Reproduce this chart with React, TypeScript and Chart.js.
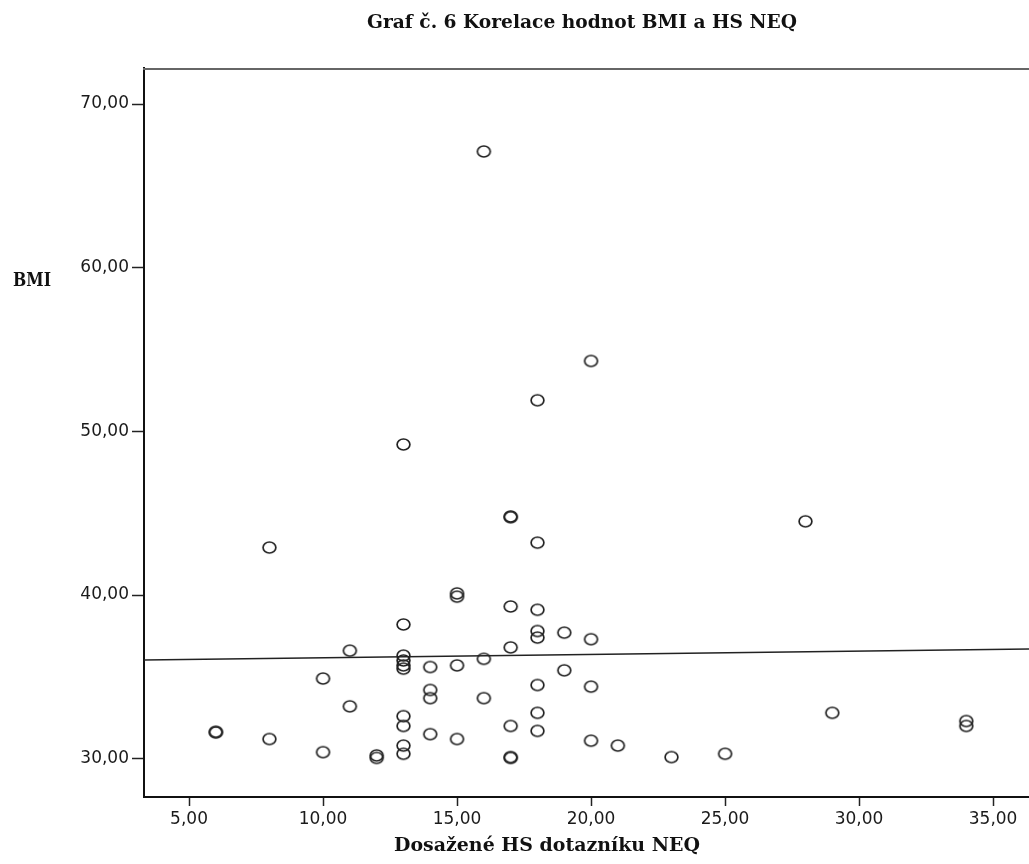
import React, { useEffect, useRef } from "react";
import { Chart, registerables } from "chart.js";

Chart.register(...registerables);

const titleText = "Graf č. 6 Korelace hodnot BMI a HS NEQ";
const xTitleText = "Dosažené HS dotazníku NEQ";
const yTitleText = "BMI";

const xTicks = [5, 10, 15, 20, 25, 30, 35];
const yTicks = [30, 40, 50, 60, 70];

// Dosažené HS dotazníku NEQ (x) and BMI (y)
const hsNeq = [
  16, 20, 18, 13, 17, 17, 28, 8, 18, 15, 15, 17, 18, 13, 18, 18, 19, 20, 11, 17,
  16, 13, 13, 13, 13, 14, 15, 10, 19, 14, 14, 16, 18, 20, 11, 13, 13, 18, 17, 18,
  6, 6, 8, 14, 15, 20, 10, 12, 12, 13, 13, 17, 17, 21, 23, 25, 29, 34, 34,
];
const bmi = [
  67.1, 54.3, 51.9, 49.2, 44.8, 44.75, 44.5, 42.9, 43.2, 40.1, 39.9, 39.3, 39.1, 38.2, 37.8, 37.4, 37.7, 37.3, 36.6, 36.8,
  36.1, 36.3, 36.0, 35.7, 35.5, 35.6, 35.7, 34.9, 35.4, 34.2, 33.7, 33.7, 34.5, 34.4, 33.2, 32.6, 32.0, 32.8, 32.0, 31.7,
  31.6, 31.65, 31.2, 31.5, 31.2, 31.1, 30.4, 30.2, 30.05, 30.8, 30.3, 30.05, 30.1, 30.8, 30.1, 30.3, 32.8, 32.3, 32.0,
];

// fit line end points
const fitX = [3.32, 36.34];
const fitY = [36.03, 36.7];

const fmt = (v: number) => v.toFixed(2).replace(".", ",");

function makeMarker(): HTMLCanvasElement {
  const c = document.createElement("canvas");
  c.width = 17;
  c.height = 15;
  const g = c.getContext("2d")!;
  g.strokeStyle = "#222";
  g.lineWidth = 1.7;
  g.beginPath();
  g.ellipse(8.5, 7.5, 6.4, 5.5, 0, 0, Math.PI * 2);
  g.stroke();
  return c;
}

const decorPlugin = {
  id: "decor",
  afterDraw(chart: any) {
    const ctx = chart.ctx as CanvasRenderingContext2D;
    const a = chart.chartArea;
    ctx.save();
    // top frame line
    ctx.strokeStyle = "#666";
    ctx.lineWidth = 2;
    ctx.beginPath();
    ctx.moveTo(a.left - 1, a.top + 1);
    ctx.lineTo(a.right, a.top + 1);
    ctx.stroke();

    const drawText = (t: string, x: number, y: number, size: number, target?: number) => {
      ctx.save();
      ctx.font = `bold ${size}px "DejaVu Serif"`;
      ctx.fillStyle = "#111";
      ctx.textAlign = "center";
      ctx.textBaseline = "middle";
      const w = ctx.measureText(t).width;
      const sx = target ? target / w : 1;
      ctx.translate(x, y);
      ctx.scale(sx, 1);
      ctx.fillText(t, 0, 0);
      ctx.restore();
    };
    drawText(titleText, 582, 23, 18, 430);
    drawText(xTitleText, 547, 846, 18, 306);
    drawText(yTitleText, 32, 281, 18, 38);
    ctx.restore();
  },
};

export default function App() {
  const ref = useRef<HTMLCanvasElement | null>(null);

  useEffect(() => {
    if (!ref.current) return;
    document.body.style.margin = "0";
    const marker = makeMarker();
    const points = hsNeq.map((x, i) => ({ x, y: bmi[i] }));
    const fit = fitX.map((x, i) => ({ x, y: fitY[i] }));

    const chart = new Chart(ref.current, {
      type: "scatter",
      data: {
        datasets: [
          {
            data: fit,
            showLine: true,
            borderColor: "#222",
            borderWidth: 1.5,
            pointRadius: 0,
            pointHoverRadius: 0,
          },
          {
            data: points,
            pointStyle: marker as any,
            pointRadius: 6,
            backgroundColor: "rgba(0,0,0,0)",
            borderColor: "#222",
          },
        ],
      },
      options: {
        responsive: false,
        animation: false,
        devicePixelRatio: 1,
        layout: { autoPadding: false, padding: { top: 68, left: 0, right: 0, bottom: 0 } },
        plugins: {
          legend: { display: false },
          title: { display: false },
          tooltip: { enabled: false },
        },
        scales: {
          x: {
            type: "linear",
            min: 3.32,
            max: 36.34,
            afterBuildTicks: (s: any) => {
              s.ticks = xTicks.map((v) => ({ value: v }));
            },
            afterFit: (s: any) => {
              s.height = 67;
              s.paddingLeft = 0;
              s.paddingRight = 0;
            },
            border: { display: true, color: "#111", width: 2 },
            grid: {
              drawOnChartArea: false,
              drawTicks: true,
              tickLength: 9,
              tickColor: "#222",
              tickWidth: 1.5,
            },
            ticks: {
              padding: 3,
              color: "#1a1a1a",
              font: { family: "DejaVu Sans", size: 17 },
              maxRotation: 0,
              autoSkip: false,
              callback: (v: any) => fmt(Number(v)),
            },
          },
          y: {
            type: "linear",
            min: 27.66,
            max: 72.2,
            afterBuildTicks: (s: any) => {
              s.ticks = yTicks.map((v) => ({ value: v }));
            },
            afterFit: (s: any) => {
              s.width = 144;
              s.paddingTop = 0;
              s.paddingBottom = 0;
            },
            border: { display: true, color: "#111", width: 2 },
            grid: {
              drawOnChartArea: false,
              drawTicks: true,
              tickLength: 12,
              tickColor: "#222",
              tickWidth: 1.5,
            },
            ticks: {
              padding: 3,
              color: "#1a1a1a",
              font: { family: "DejaVu Sans", size: 17 },
              autoSkip: false,
              callback: (v: any) => fmt(Number(v)),
            },
          },
        },
      },
      plugins: [decorPlugin],
    });
    return () => chart.destroy();
  }, []);

  return (
    <div style={{ position: "fixed", left: 0, top: 0, width: 1029, height: 864, background: "#fff" }}>
      <canvas ref={ref} width={1029} height={864} style={{ display: "block" }} />
    </div>
  );
}
